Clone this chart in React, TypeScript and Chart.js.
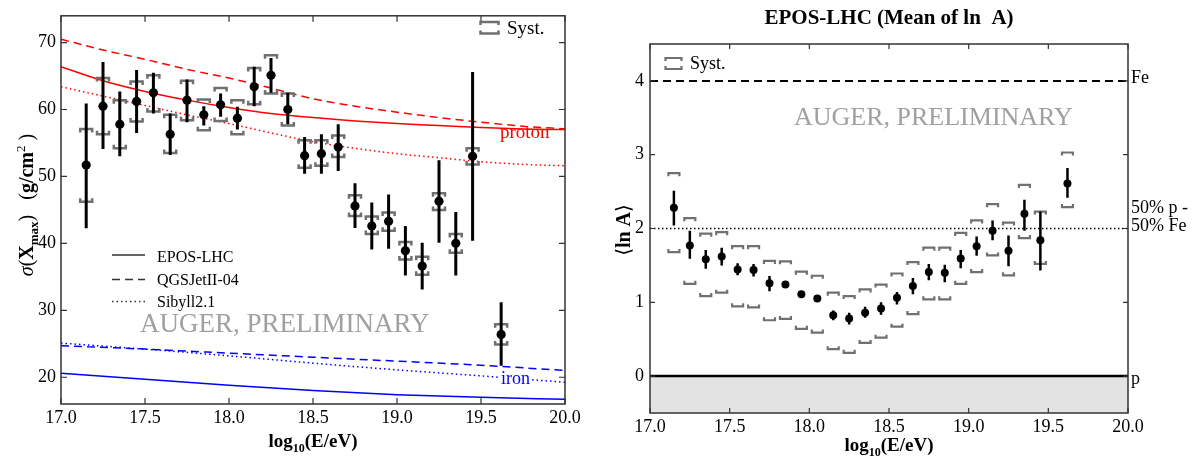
import React, { useEffect, useRef } from "react";
import { Chart, registerables } from "chart.js";
Chart.register(...registerables);

const SERIF = "'Liberation Serif', 'DejaVu Serif', 'Times New Roman', serif";

// ---------- Left panel: sigma(Xmax) ----------
const energy = [17.15, 17.25, 17.35, 17.45, 17.55, 17.65, 17.75, 17.85, 17.95, 18.05, 18.15, 18.25, 18.35, 18.45, 18.55, 18.65, 18.75, 18.85, 18.95, 19.05, 19.15, 19.25, 19.35, 19.45, 19.62];
const sigma = [51.7, 60.5, 57.8, 61.2, 62.5, 56.3, 61.4, 59.2, 60.7, 58.7, 63.4, 65.1, 60.0, 53.1, 53.4, 54.4, 45.6, 42.6, 43.3, 38.9, 36.6, 46.3, 40.0, 53.0, 26.4];
const sigmaStatHi = [60.9, 67.1, 62.7, 65.9, 65.5, 59.4, 64.5, 60.5, 62.4, 60.4, 66.4, 67.7, 62.5, 55.9, 56.3, 57.8, 49.0, 46.1, 47.3, 42.6, 40.1, 52.4, 44.7, 65.6, 31.2];
const sigmaStatLo = [42.25, 54.1, 53.0, 56.5, 59.4, 53.2, 58.1, 57.6, 58.9, 57.0, 60.5, 62.5, 57.8, 50.4, 50.4, 50.8, 42.3, 39.1, 39.2, 35.2, 33.1, 40.1, 35.2, 40.4, 21.7];
const sigmaSystHi = [57.1, 64.7, 61.4, 64.2, 65.1, 59.2, 64.3, 61.5, 63.2, 61.4, 66.2, 68.1, 62.4, 55.4, 55.4, 56.1, 47.2, 44.0, 44.6, 40.2, 38.0, 47.5, 41.4, 54.2, 27.9];
const sigmaSystLo = [46.2, 56.3, 54.2, 58.2, 59.7, 53.5, 58.4, 56.9, 58.3, 56.3, 60.8, 62.4, 57.6, 51.3, 51.6, 52.9, 44.1, 41.4, 41.9, 37.6, 35.3, 45.0, 38.6, 51.8, 24.9];

const modelE = [17.0, 17.25, 17.5, 17.75, 18.0, 18.25, 18.5, 18.75, 19.0, 19.25, 19.5, 19.75, 20.0];
const protonEpos = [66.4, 64.3, 62.7, 61.4, 60.3, 59.4, 58.8, 58.3, 57.9, 57.6, 57.3, 57.1, 57.0];
const protonQgs = [70.5, 68.9, 67.5, 66.0, 64.7, 63.2, 61.6, 60.5, 59.6, 58.8, 58.1, 57.5, 57.1];
const protonSib = [63.4, 62.0, 60.6, 59.2, 57.9, 56.5, 55.2, 54.2, 53.4, 52.8, 52.2, 51.8, 51.6];

const ironE = [17.0, 17.5, 18.0, 18.5, 19.0, 19.5, 20.0];
const ironEpos = [20.6, 19.7, 18.8, 18.0, 17.4, 17.0, 16.7];
const ironQgs = [24.7, 24.2, 23.6, 23.0, 22.4, 21.8, 21.0];
const ironSib = [25.1, 24.2, 23.2, 22.1, 21.1, 20.2, 19.25];

const leftXTicks = [17.0, 17.5, 18.0, 18.5, 19.0, 19.5, 20.0];
const leftYTicks = [20, 30, 40, 50, 60, 70];

// ---------- Right panel: <ln A> ----------
const lnA = [2.28, 1.77, 1.585, 1.62, 1.446, 1.437, 1.257, 1.24, 1.108, 1.05, 0.824, 0.78, 0.86, 0.915, 1.06, 1.22, 1.41, 1.40, 1.595, 1.76, 1.97, 1.70, 2.20, 1.84, 2.61];
const lnAStatHi = [2.51, 1.97, 1.71, 1.74, 1.53, 1.52, 1.355, 1.28, 1.15, 1.09, 0.89, 0.86, 0.94, 1.00, 1.14, 1.33, 1.52, 1.51, 1.71, 1.89, 2.11, 1.905, 2.39, 2.23, 2.82];
const lnAStatLo = [2.04, 1.59, 1.455, 1.50, 1.365, 1.35, 1.15, 1.20, 1.07, 1.01, 0.757, 0.70, 0.79, 0.83, 0.97, 1.11, 1.30, 1.27, 1.46, 1.63, 1.84, 1.49, 1.97, 1.43, 2.415];
const lnASystHi = [2.75, 2.14, 1.93, 1.95, 1.76, 1.76, 1.56, 1.555, 1.415, 1.36, 1.13, 1.085, 1.175, 1.24, 1.39, 1.545, 1.74, 1.74, 1.94, 2.11, 2.33, 2.08, 2.59, 2.23, 3.03];
const lnASystLo = [1.68, 1.25, 1.085, 1.13, 0.946, 0.93, 0.757, 0.775, 0.64, 0.59, 0.365, 0.315, 0.45, 0.52, 0.67, 0.84, 1.04, 1.04, 1.25, 1.41, 1.635, 1.365, 1.87, 1.52, 2.29];

const refX = [17.0, 20.0];
const feLine = [4, 4];
const mixLine = [2, 2];
const protonLine = [0, 0];

const rightXTicks = [17.0, 17.5, 18.0, 18.5, 19.0, 19.5, 20.0];
const rightYTicks = [0, 1, 2, 3, 4];

// ---------- helpers ----------
type Seg = { t: string; font: string; dy?: number };
function drawRich(ctx: CanvasRenderingContext2D, segs: Seg[], x: number, y: number, align: "left" | "center") {
  let total = 0;
  const widths: number[] = [];
  for (const s of segs) {
    ctx.font = s.font;
    const w = ctx.measureText(s.t).width;
    widths.push(w);
    total += w;
  }
  let cx = align === "center" ? x - total / 2 : x;
  ctx.textAlign = "left";
  ctx.textBaseline = "alphabetic";
  segs.forEach((s, i) => {
    ctx.font = s.font;
    ctx.fillText(s.t, cx, y + (s.dy || 0));
    cx += widths[i];
  });
}

function text(ctx: CanvasRenderingContext2D, t: string, x: number, y: number, font: string, color: string, bg?: string) {
  ctx.font = font;
  ctx.textAlign = "left";
  ctx.textBaseline = "alphabetic";
  if (bg) {
    const w = ctx.measureText(t).width;
    ctx.fillStyle = bg;
    ctx.fillRect(x - 1, y - 11, w + 2, 14);
  }
  ctx.fillStyle = color;
  ctx.fillText(t, x, y);
}

function bracketPair(ctx: CanvasRenderingContext2D, px: number, top: number, bot: number, half: number, leg: number) {
  ctx.beginPath();
  ctx.moveTo(px - half, top + leg);
  ctx.lineTo(px - half, top);
  ctx.lineTo(px + half, top);
  ctx.lineTo(px + half, top + leg);
  ctx.moveTo(px - half, bot - leg);
  ctx.lineTo(px - half, bot);
  ctx.lineTo(px + half, bot);
  ctx.lineTo(px + half, bot - leg);
  ctx.stroke();
}

function errorPlugin(id: string, xs: number[], statHi: number[], statLo: number[], systHi: number[], systLo: number[], o: { err: number; half: number; leg: number; bw: number }) {
  return {
    id,
    beforeDatasetDraw(chart: any, args: any) {
      if (args.index !== 0) return;
      const ctx = chart.ctx as CanvasRenderingContext2D;
      const sx = chart.scales.x;
      const sy = chart.scales.y;
      ctx.save();
      ctx.strokeStyle = "#707070";
      ctx.lineWidth = o.bw;
      ctx.lineCap = "butt";
      ctx.lineJoin = "miter";
      xs.forEach((x, i) => {
        const px = sx.getPixelForValue(x);
        bracketPair(ctx, px, sy.getPixelForValue(systHi[i]), sy.getPixelForValue(systLo[i]), o.half, o.leg);
      });
      ctx.strokeStyle = "#000";
      ctx.lineWidth = o.err;
      ctx.beginPath();
      xs.forEach((x, i) => {
        const px = sx.getPixelForValue(x);
        ctx.moveTo(px, sy.getPixelForValue(statHi[i]));
        ctx.lineTo(px, sy.getPixelForValue(statLo[i]));
      });
      ctx.stroke();
      ctx.restore();
    },
  };
}

function framePlugin(xTicks: number[], yTicks: number[], len: number) {
  return {
    id: "frame",
    afterDatasetsDraw(chart: any) {
      const ctx = chart.ctx as CanvasRenderingContext2D;
      const a = chart.chartArea;
      const sx = chart.scales.x;
      const sy = chart.scales.y;
      ctx.save();
      ctx.strokeStyle = "#333";
      ctx.lineWidth = 1.5;
      ctx.strokeRect(a.left, a.top, a.right - a.left, a.bottom - a.top);
      ctx.lineWidth = 1.2;
      ctx.beginPath();
      xTicks.forEach((v) => {
        const p = sx.getPixelForValue(v);
        ctx.moveTo(p, a.bottom);
        ctx.lineTo(p, a.bottom - len);
        ctx.moveTo(p, a.top);
        ctx.lineTo(p, a.top + len);
      });
      yTicks.forEach((v) => {
        const p = sy.getPixelForValue(v);
        ctx.moveTo(a.left, p);
        ctx.lineTo(a.left + len, p);
        ctx.moveTo(a.right, p);
        ctx.lineTo(a.right - len, p);
      });
      ctx.stroke();
      ctx.restore();
    },
  };
}

function pts(xs: number[], ys: number[]) {
  return xs.map((x, i) => ({ x, y: ys[i] }));
}

function axisOpts(min: number, max: number, ticks: number[], fmt: (v: number) => string, size: number, pad: number, fit: (s: any) => void) {
  return {
    type: "linear",
    min,
    max,
    grid: { display: false, drawTicks: false },
    border: { display: false },
    ticks: {
      font: { family: SERIF, size },
      color: "#000",
      padding: pad,
      autoSkip: false,
      maxRotation: 0,
      callback: (v: any) => fmt(Number(v)),
    },
    afterBuildTicks: (s: any) => {
      s.ticks = ticks.map((v) => ({ value: v }));
    },
    afterFit: fit,
  };
}

function lineDs(xs: number[], ys: number[], color: string, dash: number[], width: number) {
  return {
    type: "scatter",
    data: pts(xs, ys),
    showLine: true,
    borderColor: color,
    backgroundColor: color,
    borderWidth: width,
    borderDash: dash,
    pointRadius: 0,
    cubicInterpolationMode: "monotone",
    fill: false,
  };
}

function leftConfig(): any {
  const labels = {
    id: "leftText",
    beforeDatasetsDraw(chart: any) {
      const ctx = chart.ctx as CanvasRenderingContext2D;
      ctx.save();
      text(ctx, "AUGER, PRELIMINARY", 140, 332, `27px ${SERIF}`, "#a0a0a0");
      ctx.restore();
    },
    afterDraw(chart: any) {
      const ctx = chart.ctx as CanvasRenderingContext2D;
      ctx.save();
      // model labels
      text(ctx, "proton", 500, 138, `19px ${SERIF}`, "#ff0000");
      text(ctx, "iron", 501, 384, `18px ${SERIF}`, "#0000ff", "#ffffff");
      // Syst legend
      ctx.strokeStyle = "#707070";
      ctx.lineWidth = 2.5;
      bracketPair(ctx, 489.5, 22, 33.5, 9, 3);
      text(ctx, "Syst.", 507, 33.5, `19px ${SERIF}`, "#000");
      // model legend
      ctx.strokeStyle = "#333";
      ctx.lineWidth = 1.5;
      const rows: [number, number[], string, number][] = [
        [255, [], "EPOS-LHC", 261.5],
        [279.5, [8, 5], "QGSJetII-04", 285],
        [301.5, [1.5, 3], "Sibyll2.1", 307],
      ];
      rows.forEach(([y, dash, t, by]) => {
        ctx.setLineDash(dash);
        ctx.beginPath();
        ctx.moveTo(112, y);
        ctx.lineTo(145, y);
        ctx.stroke();
        ctx.setLineDash([]);
        text(ctx, t, 157, by, `16px ${SERIF}`, "#000");
      });
      // x title
      ctx.fillStyle = "#000";
      drawRich(
        ctx,
        [
          { t: "log", font: `bold 19px ${SERIF}` },
          { t: "10", font: `bold 12px ${SERIF}`, dy: 5 },
          { t: "(E/eV)", font: `bold 19px ${SERIF}` },
        ],
        313,
        447,
        "center"
      );
      // y title
      ctx.translate(33, 205);
      ctx.rotate(-Math.PI / 2);
      drawRich(
        ctx,
        [
          { t: "σ", font: `italic 20px ${SERIF}` },
          { t: "(", font: `20px ${SERIF}` },
          { t: "X", font: `bold 20px ${SERIF}` },
          { t: "max", font: `bold 13px ${SERIF}`, dy: 5 },
          { t: ")   (", font: `20px ${SERIF}` },
          { t: "g/cm", font: `bold 20px ${SERIF}` },
          { t: "2", font: `13px ${SERIF}`, dy: -8 },
          { t: " )", font: `20px ${SERIF}` },
        ],
        0,
        0,
        "center"
      );
      ctx.restore();
    },
  };

  return {
    type: "scatter",
    data: {
      datasets: [
        {
          type: "scatter",
          data: pts(energy, sigma),
          pointRadius: 4.6,
          pointBackgroundColor: "#000",
          pointBorderWidth: 0,
          showLine: false,
        },
        lineDs(modelE, protonEpos, "#ff0000", [], 1.5),
        lineDs(modelE, protonQgs, "#ff0000", [8, 5], 1.5),
        lineDs(modelE, protonSib, "#ff0000", [1.5, 3], 1.5),
        lineDs(ironE, ironEpos, "#0000ff", [], 1.5),
        lineDs(ironE, ironQgs, "#0000ff", [8, 5], 1.5),
        lineDs(ironE, ironSib, "#0000ff", [1.5, 3], 1.5),
      ],
    },
    options: {
      responsive: false,
      animation: false,
      events: [],
      layout: { padding: { left: 0, top: 7, right: 25, bottom: 0 } },
      plugins: { legend: { display: false }, tooltip: { enabled: false }, title: { display: false } },
      scales: {
        x: axisOpts(17, 20, leftXTicks, (v) => v.toFixed(1), 18, 3, (s: any) => { s.height = 60; }),
        y: axisOpts(16, 74, leftYTicks, (v) => String(Math.round(v)), 18, 5, (s: any) => { s.width = 61; }),
      },
    },
    plugins: [
      labels,
      errorPlugin("leftErr", energy, sigmaStatHi, sigmaStatLo, sigmaSystHi, sigmaSystLo, { err: 3, half: 6, leg: 3.5, bw: 2.5 }),
      framePlugin(leftXTicks, leftYTicks, 6),
    ],
  };
}

function rightConfig(): any {
  const OX = 590;
  const labels = {
    id: "rightText",
    afterDraw(chart: any) {
      const ctx = chart.ctx as CanvasRenderingContext2D;
      ctx.save();
      ctx.fillStyle = "#000";
      drawRich(ctx, [{ t: "EPOS-LHC (Mean of ln  A)", font: `bold 21px ${SERIF}` }], 889 - OX, 24, "center");
      text(ctx, "AUGER, PRELIMINARY", 794 - OX, 125, `26px ${SERIF}`, "#a0a0a0");
      // syst legend
      ctx.strokeStyle = "#707070";
      ctx.lineWidth = 2.2;
      bracketPair(ctx, 673.5 - OX, 58, 69, 8, 3);
      text(ctx, "Syst.", 690 - OX, 68.5, `18px ${SERIF}`, "#000");
      // side labels
      const f = `18px ${SERIF}`;
      text(ctx, "Fe", 1131 - OX, 83, f, "#000");
      text(ctx, "50% p -", 1131 - OX, 213, f, "#000");
      text(ctx, "50% Fe", 1131 - OX, 231, f, "#000");
      text(ctx, "p", 1131 - OX, 384, f, "#000");
      // x title
      ctx.fillStyle = "#000";
      drawRich(
        ctx,
        [
          { t: "log", font: `bold 19px ${SERIF}` },
          { t: "10", font: `bold 12px ${SERIF}`, dy: 5 },
          { t: "(E/eV)", font: `bold 19px ${SERIF}` },
        ],
        889 - OX,
        451,
        "center"
      );
      // y title
      ctx.translate(40, 230);
      ctx.rotate(-Math.PI / 2);
      drawRich(
        ctx,
        [
          { t: "⟨", font: `20px 'DejaVu Serif', ${SERIF}` },
          { t: "ln A", font: `bold 20px ${SERIF}` },
          { t: "⟩", font: `20px 'DejaVu Serif', ${SERIF}` },
        ],
        0,
        0,
        "center"
      );
      ctx.restore();
    },
  };

  return {
    type: "scatter",
    data: {
      datasets: [
        {
          type: "scatter",
          data: pts(energy, lnA),
          pointRadius: 4,
          pointBackgroundColor: "#000",
          pointBorderWidth: 0,
          showLine: false,
        },
        {
          type: "scatter",
          data: pts(refX, protonLine),
          showLine: true,
          borderColor: "#000",
          borderWidth: 2.5,
          pointRadius: 0,
          fill: "start",
          backgroundColor: "#e3e3e3",
        },
        {
          type: "scatter",
          data: pts(refX, feLine),
          showLine: true,
          borderColor: "#000",
          borderWidth: 2,
          borderDash: [8, 5],
          pointRadius: 0,
          fill: false,
        },
        {
          type: "scatter",
          data: pts(refX, mixLine),
          showLine: true,
          borderColor: "#000",
          borderWidth: 1.5,
          borderDash: [1.5, 2.5],
          pointRadius: 0,
          fill: false,
        },
      ],
    },
    options: {
      responsive: false,
      animation: false,
      events: [],
      layout: { padding: { left: 0, top: 44, right: 71, bottom: 0 } },
      plugins: { legend: { display: false }, tooltip: { enabled: false }, title: { display: false } },
      scales: {
        x: axisOpts(17, 20, rightXTicks, (v) => v.toFixed(1), 18, 3, (s: any) => { s.height = 51; }),
        y: axisOpts(-0.5, 4.5, rightYTicks, (v) => String(Math.round(v)), 18, 6, (s: any) => { s.width = 60; }),
      },
    },
    plugins: [
      labels,
      errorPlugin("rightErr", energy, lnAStatHi, lnAStatLo, lnASystHi, lnASystLo, { err: 2.5, half: 5.5, leg: 3, bw: 2.2 }),
      framePlugin(rightXTicks, rightYTicks, 5),
    ],
  };
}

export default function App() {
  const leftRef = useRef<HTMLCanvasElement>(null);
  const rightRef = useRef<HTMLCanvasElement>(null);
  useEffect(() => {
    const c1 = new Chart(leftRef.current as HTMLCanvasElement, leftConfig());
    const c2 = new Chart(rightRef.current as HTMLCanvasElement, rightConfig());
    return () => {
      c1.destroy();
      c2.destroy();
    };
  }, []);
  return (
    <div style={{ position: "fixed", left: 0, top: 0, width: 1199, height: 464, background: "#fff" }}>
      <canvas ref={leftRef} width={590} height={464} style={{ position: "absolute", left: 0, top: 0, width: 590, height: 464 }} />
      <canvas ref={rightRef} width={609} height={464} style={{ position: "absolute", left: 590, top: 0, width: 609, height: 464 }} />
    </div>
  );
}
